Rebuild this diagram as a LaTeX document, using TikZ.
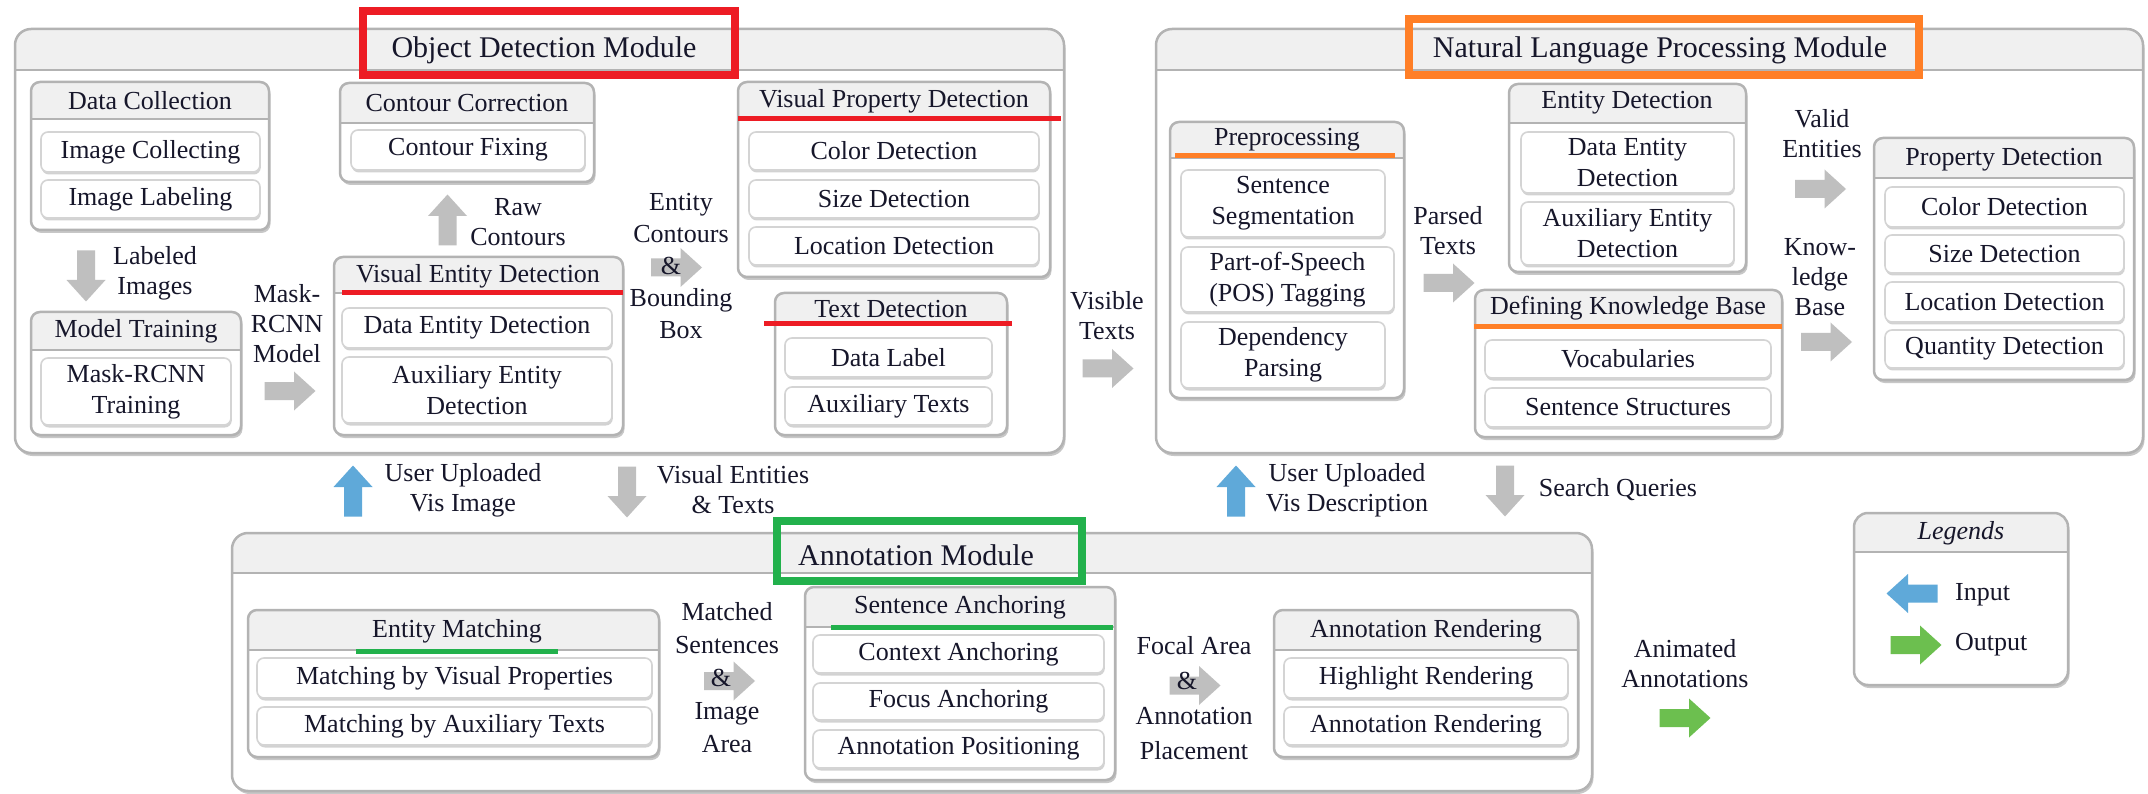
\documentclass[tikz,border=0pt]{standalone}
\usepackage{fontspec}
\setmainfont{Liberation Serif}
\usetikzlibrary{shadows}
\definecolor{pline}{HTML}{B3B3B3}
\definecolor{hfill}{HTML}{F0F0F0}
\definecolor{iline}{HTML}{D4D4D4}
\definecolor{agray}{HTML}{BFBFBF}
\definecolor{ablue}{HTML}{5FA9D9}
\definecolor{agreen}{HTML}{6CBF4F}
\definecolor{mred}{HTML}{ED1C24}
\definecolor{morange}{HTML}{FF7F27}
\definecolor{mgreen}{HTML}{22B14C}
\definecolor{txt}{HTML}{16162A}
\newcommand{\itemfont}{\fontsize{26}{31}\selectfont}
\newcommand{\modfont}{\fontsize{30}{34}\selectfont}
\newcommand{\labfont}{\fontsize{26}{30}\selectfont}
% panel: x1,y1,x2,y2,yheader,radius
\newcommand{\panel}[6]{%
  \fill[black!22, rounded corners=#6] (#1+1.5,#2+3) rectangle (#3+1.5,#4+3);
  \fill[white, rounded corners=#6] (#1,#2) rectangle (#3,#4);
  \begin{scope}
    \clip[rounded corners=#6] (#1,#2) rectangle (#3,#4);
    \fill[hfill] (#1,#2) rectangle (#3,#5);
  \end{scope}
  \draw[pline, line width=2.5pt, rounded corners=#6] (#1,#2) rectangle (#3,#4);
  \draw[pline, line width=2.5pt] (#1,#5) -- (#3,#5);
}
% item box: name, x1,y1,x2,y2, text
\newcommand{\itembox}[6]{%
  \node[itembx, minimum width={#4-#2}, minimum height={#5-#3}] (#1) at ({(#2+#4)/2},{(#3+#5)/2}) {#6};
}
% block arrow: name, cx, cy, angle (0 right, 90 up, 180 left, 270 down), colour
\newcommand{\blockarrow}[5]{%
  \begin{scope}[shift={(#2,#3)}, rotate=#4]
    \fill[#5] (-25.5,-9) -- (4,-9) -- (4,-19.5) -- (25.5,0) -- (4,19.5) -- (4,9) -- (-25.5,9) -- cycle;
  \end{scope}
  \coordinate (#1) at (#2,#3);
}
\tikzset{
  itembx/.style={draw=iline, line width=1.6pt, rounded corners=7pt, fill=white,
    inner sep=0pt, align=center, font=\itemfont, text=txt,
    drop shadow={shadow xshift=0.8pt, shadow yshift=-2.5pt, fill=black!35, opacity=0.5}},
  ptitle/.style={font=\itemfont, text=txt, inner sep=0pt},
  mtitle/.style={font=\modfont, text=txt, inner sep=0pt},
  lab/.style={font=\labfont, text=txt, inner sep=0pt, align=center},
  frame/.style={line width=8pt},
  uline/.style={line width=5pt}
}
\begin{document}
\begin{tikzpicture}[x=1pt,y=-1pt]
\useasboundingbox (0,0) rectangle (2148,794);

%================ Object Detection Module
\panel{15}{29}{1064}{453}{70}{16}
\node[mtitle] (odt) at (544,50) {Object Detection Module};
\draw[mred, frame] (362.5,11.5) rectangle (734.5,75.5);

% Data Collection
\panel{31}{82}{269}{230}{119}{9}
\node[ptitle] (dct) at (150,101) {Data Collection};
\itembox{ic}{41}{132}{260}{172}{Image Collecting}
\itembox{il}{41}{180}{260}{218}{Image Labeling}

\blockarrow{a1}{86}{276}{270}{agray}
\node[lab] (l1) at (155,273) {Labeled\\Images};

% Model Training
\panel{31}{312}{241}{435}{350}{9}
\node[ptitle] (mtt) at (136,331) {Model Training};
\itembox{mrt}{41}{358}{231}{425}{Mask-RCNN\\Training}

\node[lab] (l2) at (287,324) {Mask-\\RCNN\\Model};
\blockarrow{a2}{290}{391}{0}{agray}

% Visual Entity Detection
\panel{334}{257}{623}{435}{293}{9}
\node[ptitle] (vedt) at (478,276) {Visual Entity Detection};
\draw[mred, uline] (342,293) -- (623,293);
\itembox{ded}{342}{308}{612}{348}{Data Entity Detection}
\itembox{aed}{342}{357}{612}{423}{Auxiliary Entity\\Detection}

% Contour Correction
\panel{340}{83}{594}{182}{123}{9}
\node[ptitle] (cct) at (467,103) {Contour Correction};
\itembox{cf}{351}{130}{585}{170}{Contour Fixing}

\blockarrow{a3}{447.5}{220}{90}{agray}
\node[lab] (l3) at (518,222) {Raw\\Contours};

% Entity contours label
\blockarrow{a4}{676.5}{267.5}{0}{agray}
\node[lab, align=center, font=\fontsize{26}{32}\selectfont] (l4) at (681,266) {Entity\\Contours\\\hspace*{-20pt}\&\\Bounding\\Box};

% Visual Property Detection
\panel{738}{82}{1050}{277}{118}{9}
\node[ptitle] (vpdt) at (894,101) {Visual Property Detection};
\draw[mred, uline] (738,119) -- (1061,119);
\itembox{cd1}{749}{132}{1039}{170}{Color Detection}
\itembox{sd1}{749}{180}{1039}{218}{Size Detection}
\itembox{ld1}{749}{227}{1039}{265}{Location Detection}

% Text Detection
\panel{775}{293}{1007}{435}{324}{9}
\node[ptitle] (tdt) at (891,309) {Text Detection};
\draw[mred, uline] (764,324) -- (1012,324);
\itembox{dl}{785}{338}{992}{377}{Data Label}
\itembox{at}{785}{387}{992}{425}{Auxiliary Texts}

% Visible texts
\node[lab] (l5) at (1107,316) {Visible\\Texts};
\blockarrow{a5}{1108}{368.5}{0}{agray}

%================ NLP Module
\panel{1156}{29}{2143}{453}{70}{16}
\node[mtitle] (nlpt) at (1660,50) {Natural Language Processing Module};
\draw[morange, frame] (1408.5,19.5) rectangle (1918.5,75.5);

% Preprocessing
\panel{1170}{122}{1404}{398}{158}{9}
\node[ptitle] (ppt) at (1287,140) {Preprocessing};
\draw[morange, uline] (1175,155.5) -- (1395,155.5);
\itembox{ss}{1181}{170}{1385}{237}{Sentence\\Segmentation}
\itembox{pos}{1181}{247}{1394}{312}{Part-of-Speech\\(POS) Tagging}
\itembox{dp}{1181}{322}{1385}{388}{Dependency\\Parsing}

\node[lab] (l6) at (1448,231) {Parsed\\Texts};
\blockarrow{a6}{1449}{283}{0}{agray}

% Entity Detection
\panel{1509}{84}{1746}{272}{123}{9}
\node[ptitle] (edt) at (1627,103) {Entity Detection};
\itembox{ded2}{1521}{132}{1734}{193}{Data Entity\\Detection}
\itembox{aed2}{1521}{202}{1734}{265}{Auxiliary Entity\\Detection}

% Defining Knowledge Base
\panel{1475}{290}{1782}{437}{327}{9}
\node[ptitle] (dkbt) at (1628,308) {Defining Knowledge Base};
\draw[morange, uline] (1474,327) -- (1782,327);
\itembox{voc}{1485}{340}{1771}{378}{Vocabularies}
\itembox{sst}{1485}{388}{1771}{427}{Sentence Structures}

\node[lab] (l7) at (1822,134) {Valid\\Entities};
\blockarrow{a7}{1820.5}{189}{0}{agray}
\node[lab] (l8) at (1820,277) {Know-\\ledge\\Base};
\blockarrow{a8}{1826.5}{342}{0}{agray}

% Property Detection
\panel{1874}{138}{2134}{380}{178}{9}
\node[ptitle] (pdt) at (2004,160) {Property Detection};
\itembox{cd2}{1885}{187}{2124}{227}{Color Detection}
\itembox{sd2}{1885}{235}{2124}{273}{Size Detection}
\itembox{ld2}{1885}{282}{2124}{322}{Location Detection}
\itembox{qd2}{1885}{330}{2124}{368}{Quantity Detection}

%================ Between modules
\blockarrow{b1}{353}{491}{90}{ablue}
\node[lab] (l9) at (463,490) {User Uploaded\\Vis Image};
\blockarrow{a9}{627}{492}{270}{agray}
\node[lab] (l10) at (733,490) {Visual Entities\\\& Texts};
\blockarrow{b2}{1236}{491}{90}{ablue}
\node[lab] (l11) at (1347,490) {User Uploaded\\Vis Description};
\blockarrow{a10}{1505}{491}{270}{agray}
\node[lab] (l12) at (1618,490) {Search Queries};

%================ Annotation Module
\panel{232}{533}{1592}{791}{573}{16}
\node[mtitle] (ant) at (916,555) {Annotation Module};
\draw[mgreen, frame] (776.5,520.5) rectangle (1081.5,580.5);

% Entity Matching
\panel{248}{610}{659}{757}{650}{9}
\node[ptitle] (emt) at (457,631) {Entity Matching};
\draw[mgreen, uline] (356,651) -- (558,651);
\itembox{mvp}{257}{658}{652}{698}{Matching by Visual Properties}
\itembox{mat}{257}{707}{652}{745}{Matching by Auxiliary Texts}

\blockarrow{a11}{729.5}{681}{0}{agray}
\node[lab, font=\fontsize{26}{33}\selectfont] (l13) at (727,678) {Matched\\Sentences\\\hspace*{-12pt}\&\\Image\\Area};

% Sentence Anchoring
\panel{805}{587}{1115}{780}{627}{9}
\node[ptitle] (sat) at (960,607) {Sentence Anchoring};
\draw[mgreen, uline] (831,627) -- (1113,627);
\itembox{ca}{813}{635}{1104}{673}{Context Anchoring}
\itembox{fa}{813}{683}{1104}{720}{Focus Anchoring}
\itembox{ap}{813}{730}{1104}{768}{Annotation Positioning}

\blockarrow{a12}{1195}{685.5}{0}{agray}
\node[lab, font=\fontsize{26}{35}\selectfont] (l14) at (1194,698) {Focal Area\\\hspace*{-14pt}\&\\Annotation\\Placement};

% Annotation Rendering
\panel{1274}{610}{1578}{757}{650}{9}
\node[ptitle] (art) at (1426,631) {Annotation Rendering};
\itembox{hr}{1284}{658}{1568}{698}{Highlight Rendering}
\itembox{ar}{1284}{707}{1568}{745}{Annotation Rendering}

\node[lab] (l15) at (1685,664) {Animated\\Annotations};
\blockarrow{g1}{1685}{718}{0}{agreen}

%================ Legends
\panel{1854}{513}{2068}{685}{552}{14}
\node[ptitle, font=\itemfont\itshape] (lgt) at (1961,533) {Legends};
\blockarrow{b3}{1912}{593.5}{180}{ablue}
\node[lab, anchor=west] (l16) at (1955,595) {Input};
\blockarrow{g2}{1916}{645}{0}{agreen}
\node[lab, anchor=west] (l17) at (1955,645) {Output};
\end{tikzpicture}
\end{document}
